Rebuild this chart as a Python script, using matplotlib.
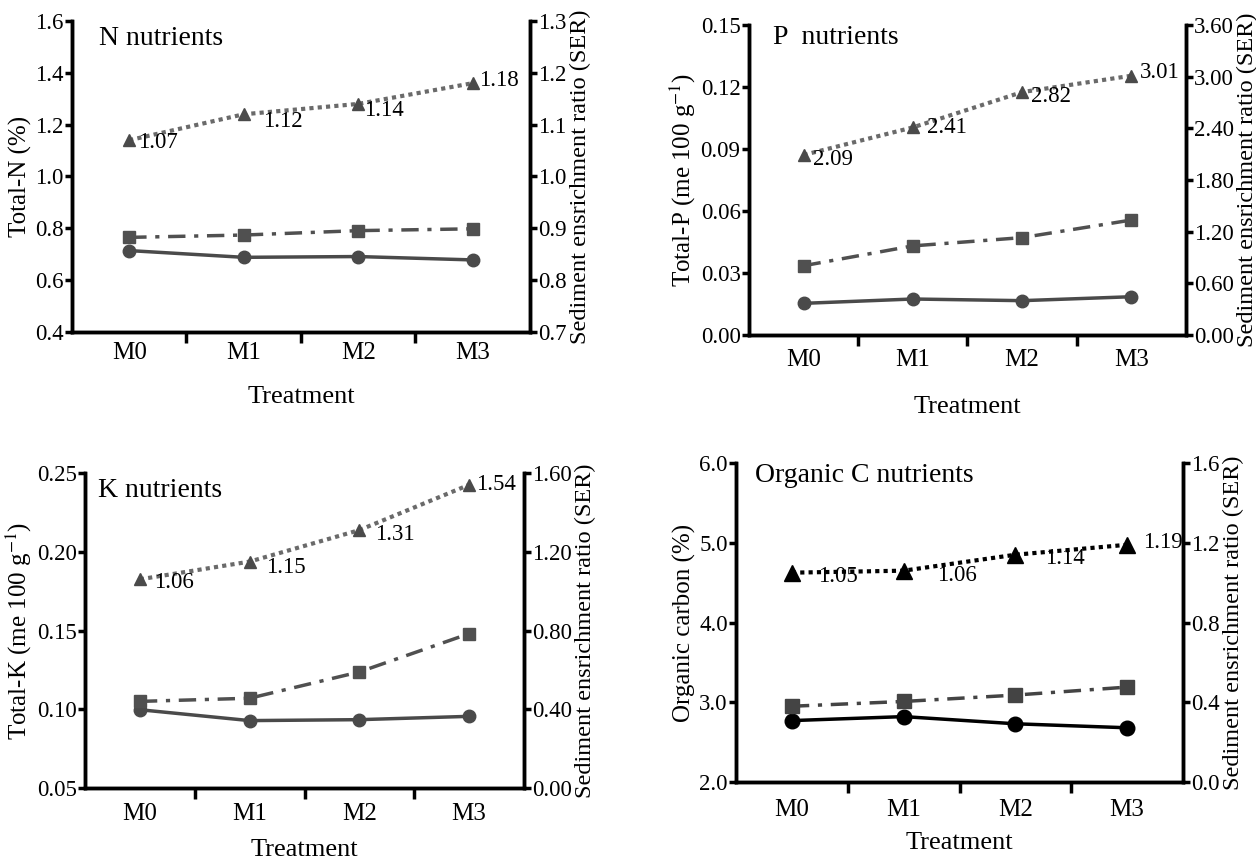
import matplotlib
matplotlib.use("Agg")
import matplotlib.pyplot as plt

plt.rcParams["font.family"] = ["Liberation Serif", "DejaVu Serif"]
plt.rcParams["mathtext.fontset"] = "stix"

# Treatments
treatments = ["M0", "M1", "M2", "M3"]

# N nutrients
n_ser = [1.07, 1.12, 1.14, 1.18]
n_square = [0.765, 0.774, 0.791, 0.798]
n_circle = [0.714, 0.688, 0.691, 0.678]

# P nutrients
p_ser = [2.09, 2.41, 2.82, 3.01]
p_square = [0.0335, 0.0431, 0.0471, 0.0556]
p_circle = [0.0153, 0.0174, 0.0166, 0.0185]

# K nutrients
k_ser = [1.06, 1.15, 1.31, 1.54]
k_square = [0.105, 0.107, 0.1237, 0.148]
k_circle = [0.0997, 0.0928, 0.0934, 0.0955]

# Organic C nutrients
c_ser = [1.05, 1.06, 1.14, 1.19]
c_square = [2.95, 3.01, 3.09, 3.19]
c_circle = [2.77, 2.82, 2.73, 2.68]

SER_LABEL = "Sediment ensrichment ratio (SER)"

panels = [
    dict(rect=[0.0573, 0.614, 0.3646, 0.3616], title="N nutrients", title_xy=(0.06, 0.945),
         ylabel="Total-N (%)", ylim=(0.4, 1.6), yticks=[0.4, 0.6, 0.8, 1.0, 1.2, 1.4, 1.6], yfmt="{:.1f}",
         rlim=(0.7, 1.3), rticks=[0.7, 0.8, 0.9, 1.0, 1.1, 1.2, 1.3], rfmt="{:.1f}",
         ser=n_ser, square=n_square, circle=n_circle,
         offsets=[(6.5, -2), (14, -5), (4.5, -5), (4.5, 2)],
         xpad=7, labelpad=16, dark=False),
    dict(rect=[0.5963, 0.6105, 0.3479, 0.3605], title="P  nutrients", title_xy=(0.055, 0.96),
         ylabel="Total-P (me 100 g$^{-1}$)", ylim=(0, 0.15), yticks=[0, 0.03, 0.06, 0.09, 0.12, 0.15], yfmt="{:.2f}",
         rlim=(0, 3.6), rticks=[0, 0.6, 1.2, 1.8, 2.4, 3.0, 3.6], rfmt="{:.2f}",
         ser=p_ser, square=p_square, circle=p_circle,
         offsets=[(7, -3.5), (10, 0), (6.5, -3), (6, 2)],
         xpad=10, labelpad=18, dark=False),
    dict(rect=[0.0677, 0.0837, 0.3495, 0.3663], title="K nutrients", title_xy=(0.03, 0.946),
         ylabel="Total-K (me 100 g$^{-1}$)", ylim=(0.05, 0.25), yticks=[0.05, 0.10, 0.15, 0.20, 0.25], yfmt="{:.2f}",
         rlim=(0, 1.6), rticks=[0, 0.4, 0.8, 1.2, 1.6], rfmt="{:.2f}",
         ser=k_ser, square=k_square, circle=k_circle,
         offsets=[(10, -2), (12, -4.5), (11, -3.5), (5, 0)],
         xpad=11, labelpad=10, dark=False),
    dict(rect=[0.586, 0.0907, 0.3559, 0.3709], title="Organic C nutrients", title_xy=(0.043, 0.962),
         ylabel="Organic carbon (%)", ylim=(2.0, 6.0), yticks=[2.0, 3.0, 4.0, 5.0, 6.0], yfmt="{:.1f}",
         rlim=(0, 1.6), rticks=[0, 0.4, 0.8, 1.2, 1.6], rfmt="{:.1f}",
         ser=c_ser, square=c_square, circle=c_circle,
         offsets=[(19, -3), (24, -3.5), (21, -3), (11.5, 1.5)],
         xpad=12, labelpad=8, dark=True),
]

fig = plt.figure(figsize=(12.56, 8.6), dpi=100)
x = list(range(len(treatments)))

for p in panels:
    ax = fig.add_axes(p["rect"])
    ax2 = ax.twinx()
    mcol = "black" if p["dark"] else "#4a4a4a"
    scol = "#444444" if p["dark"] else "#505050"
    tcol = "black" if p["dark"] else "#6a6a6a"
    tri_ms = 12 if p["dark"] else 9
    cir_ms = 10.5 if p["dark"] else 9
    sq_ms = 9.5 if p["dark"] else 9

    ax.plot(x, p["circle"], "-", color=mcol, lw=2.5, marker="o", ms=cir_ms)
    ax.plot(x, p["square"], color=scol, lw=2.5, ls=(0, (5, 2.5, 1.2, 2.5)), marker="s", ms=sq_ms)
    ax2.plot(x, p["ser"], color=tcol, lw=3, ls=(0, (1, 1)), marker="^", ms=tri_ms, mfc=mcol, mec=mcol)
    for xi, v, off in zip(x, p["ser"], p["offsets"]):
        ax2.annotate(f"{v:.2f}", (xi, v), xytext=off, textcoords="offset points",
                     ha="left", va="center", fontsize=16.5)

    ax.set_xlim(-0.5, 3.5)
    ax.set_ylim(*p["ylim"])
    ax2.set_ylim(*p["rlim"])
    ax.set_yticks(p["yticks"])
    ax.set_yticklabels([p["yfmt"].format(t) for t in p["yticks"]])
    ax2.set_yticks(p["rticks"])
    ax2.set_yticklabels([p["rfmt"].format(t) for t in p["rticks"]])
    ax.set_xticks(x)
    ax.set_xticklabels(treatments)
    ax.set_xticks([0.5, 1.5, 2.5], minor=True)
    ax.tick_params(axis="x", which="major", length=0, pad=p["xpad"], labelsize=18)
    ax.tick_params(axis="x", which="minor", length=8, width=2.5, direction="out")
    ax.tick_params(axis="y", length=5, width=2.5, pad=1, labelsize=16.5)
    ax2.tick_params(axis="y", length=5, width=2.5, pad=1, labelsize=16.5)

    for a in (ax, ax2):
        a.spines["top"].set_visible(False)
        for s in ("left", "right", "bottom"):
            a.spines[s].set_linewidth(2.5)

    ax.set_xlabel("Treatment", fontsize=19, labelpad=p["labelpad"])
    ax.set_ylabel(p["ylabel"], fontsize=18, labelpad=2)
    ax2.set_ylabel(SER_LABEL, fontsize=17.5, labelpad=2)
    ax.text(p["title_xy"][0], p["title_xy"][1], p["title"], transform=ax.transAxes,
            fontsize=20, ha="left", va="center")

fig.savefig("out.png", dpi=100)
